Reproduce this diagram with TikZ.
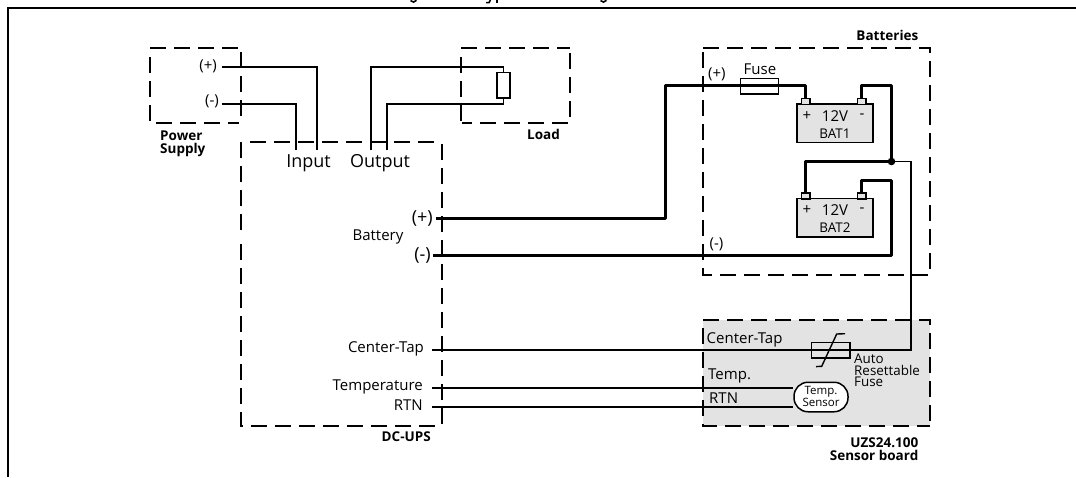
\documentclass[tikz,border=0pt]{standalone}
\usepackage{fontspec}
\setmainfont{Open Sans}
\definecolor{panel}{HTML}{E3E3E3}
\tikzset{x=1pt,y=-1pt,
 dashbox/.style={draw,line width=1.7pt,dash pattern=on 16pt off 8pt},
 thin wire/.style={draw,line width=1.6pt,line join=miter},
 mid wire/.style={draw,line width=1.8pt,line join=miter},
 thick wire/.style={draw,line width=2.8pt,line join=round},
 big lab/.style={inner sep=0pt,font=\fontsize{18}{18}\selectfont},
 lab/.style={inner sep=0pt,font=\fontsize{15}{15}\selectfont},
 small/.style={inner sep=0pt,font=\fontsize{13.4}{11.6}\selectfont,align=left},
 head/.style={inner sep=0pt,font=\fontsize{13.5}{13}\selectfont\bfseries},
 batbox/.style={draw,fill=panel,line width=1.4pt,minimum width=76pt,minimum height=38.5pt,inner sep=0pt},
 terminal/.style={draw,fill=panel,line width=1.2pt,minimum width=8.5pt,minimum height=6pt,inner sep=0pt},
 part/.style={draw,line width=1.4pt,inner sep=0pt}
}
\begin{document}
\begin{tikzpicture}
\useasboundingbox (0,0) rectangle (1076,477);
\fill[white] (0,0) rectangle (1076,477);
% frame
\draw[line width=2pt] (7.5,477) -- (7.5,7.5) -- (1076,7.5);
% clipped remains of the caption above the frame
\draw[line width=1.6pt] (410.5,0.6) .. controls (412,2.6) and (415,2.6) .. (416.5,0.3);
\draw[line width=1.6pt] (486,2.6) -- (489,2.6) -- (490.5,0);
\draw[line width=1.8pt] (497,0) -- (497,3);
\draw[line width=1.6pt] (600.5,0.6) .. controls (602,2.6) and (605,2.6) .. (606.5,0.3);
% sensor board panel
\fill[panel] (703,320) rectangle (930,426);
% dashed boxes
\path[dashbox] (150,48) -- (239,48);
\path[dashbox] (150,57) -- (150,123) -- (239,123);
\path[dashbox] (241,52) -- (241,119);
\path[dashbox] (250,142) -- (436,142);
\path[dashbox] (241,142) -- (241,232) ;
\path[dashbox] (241,244) -- (241,426) -- (442,426);
\path[dashbox] (442,144) -- (442,426);
\path[dashbox] (461,48) -- (570,48);
\path[dashbox] (570,53) -- (570,123) -- (462,123);
\path[dashbox] (461,57) -- (461,123);
\path[dashbox] (703,48) -- (930,48) -- (930,275);
\path[dashbox] (703,52) -- (703,275) -- (930,275);
\path[dashbox] (703,320) -- (930,320) -- (930,426);
\path[dashbox] (703,328) -- (703,426) -- (930,426);
% parts
\node[part,minimum width=13pt,minimum height=25.5pt] (res) at (503.5,85.3) {};
\node[part,minimum width=38.5pt,minimum height=15.5pt] (fuse) at (759.5,86.2) {};
\node[batbox] (bat1) at (835,123.3) {};
\node[batbox] (bat2) at (835,217.8) {};
\node[terminal] (t1p) at (805.7,101.5) {};
\node[terminal] (t1m) at (861.7,101.5) {};
\node[terminal] (t2p) at (805.7,196) {};
\node[terminal] (t2m) at (861.7,196) {};
\node[part,minimum width=38.5pt,minimum height=15.5pt] (ptc) at (830.8,350.2) {};
\node[draw,fill=white,line width=1.5pt,rounded corners=14pt,minimum width=54pt,minimum height=29.5pt,inner sep=0pt] (sensor) at (821,397) {};
% terminals of the wires
\coordinate (psp) at (222,67);
\coordinate (psm) at (222,104);
\coordinate (inp) at (317,150);
\coordinate (inm) at (296,150);
\coordinate (outa) at (371,150);
\coordinate (outb) at (387,150);
\coordinate (batp) at (436,218.5);
\coordinate (batm) at (433,255.5);
\coordinate (junc) at (891.5,161.5);
\coordinate (ct) at (432,350);
\coordinate (tmp) at (432,388);
\coordinate (rtn) at (432,407);
% thin wires
\draw[thin wire] (psp) -| (inp);
\draw[thin wire] (psm) -| (inm);
\draw[thin wire] (outa) |- (503.5,67) -- (res.north);
\draw[thin wire] (outb) |- (503.5,104) -- (res.south);
\draw[thin wire] (junc) -| (911,350) -- (ct);
% sensor wires
\draw[mid wire] (tmp) -- (tmp -| sensor.west);
\draw[mid wire] (rtn) -- (rtn -| sensor.west);
% thick wires
\draw[thick wire] (batp) -| (665.5,85.5) -| (t1p.north);
\draw[thick wire] (t1m.north) |- (891.5,85.5) -- (junc);
\draw[thick wire] (junc) -| (t2p.north);
\draw[thick wire] (batm) -| (891.5,180.5) -| (t2m.north);
\fill (junc) circle (3.8);
% PTC slash
\draw[line width=1.4pt] (816,366.6) -- (821.7,366.3) -- (836.7,334) -- (845,333.7);
% box labels
\node[head,anchor=west,align=left] (lps) at (160,144) {Power\\Supply};
\node[head] (lload) at (543.5,134) {Load};
\node[head,anchor=east] (lbat) at (918.5,35.5) {Batteries};
\node[head,anchor=east] (lups) at (431,436.5) {DC-UPS};
\node[head,anchor=east,align=right] (lsb) at (918.5,449) {UZS24.100\\Sensor board};
% DC-UPS labels
\node[big lab] (linp) at (308.5,163) {Input};
\node[big lab] (lout) at (380,163) {Output};
\node[lab] (lbatt) at (378,237) {Battery};
\node[big lab,anchor=east] (lbp) at (433,218) {(+)};
\node[big lab,anchor=east] (lbm) at (431,255) {(-)};
\node[lab,anchor=east] (lct) at (424,349) {Center-Tap};
\node[lab,anchor=east] (ltm) at (423,386.5) {Temperature};
\node[lab,anchor=east] (lrt) at (423,405) {RTN};
% power supply
\node[lab,anchor=east] (lpp) at (217,66) {(+)};
\node[lab,anchor=east] (lpm) at (219,101) {(-)};
% batteries
\node[lab] (lfuse) at (760,69) {Fuse};
\node[lab,anchor=west] (lbatp) at (708,74.5) {(+)};
\node[lab,anchor=west] (lbatm) at (709.5,244) {(-)};
\foreach \b/\yy/\nm in {1/116/BAT1,2/210/BAT2}{
  \node[lab] (p\b) at (807,\yy) {+};
  \node[lab] (v\b) at (835,\yy) {12V};
  \node[lab] (m\b) at (862,\yy) {-};
  \node[small] (n\b) at (835,\yy+18) {\nm};
}
% sensor board
\node[lab,anchor=west] (lsct) at (706.5,340) {Center-Tap};
\node[lab,anchor=west] (lst) at (708,376) {Temp.};
\node[lab,anchor=west] (lsr) at (709,398) {RTN};
\node[small,anchor=west] (larf) at (854,370.5) {Auto\\Resettable\\Fuse};
\node[inner sep=0pt,font=\fontsize{11.5}{11}\selectfont,align=center] (lsens) at (821,396.5) {Temp.\\Sensor};
\end{tikzpicture}
\end{document}
